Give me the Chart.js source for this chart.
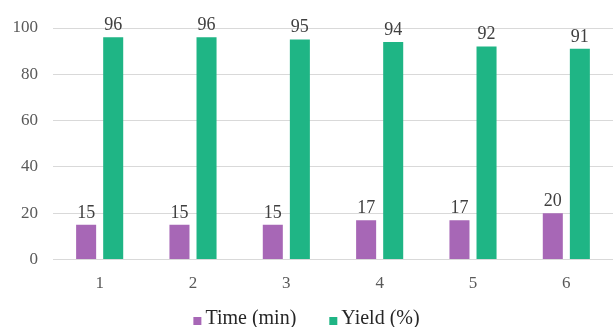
<!DOCTYPE html>
<html>
<head>
<meta charset="utf-8">
<script src="https://cdn.jsdelivr.net/npm/chart.js@4/dist/chart.umd.min.js"></script>
<style>
html,body{margin:0;padding:0;background:#fff;}
#wrap{width:613px;height:327px;}
</style>
</head>
<body>
<div id="wrap"><canvas id="c" width="613" height="327"></canvas></div>
<script>
const categories = ["1","2","3","4","5","6"];
const timeMin = [15,15,15,17,17,20];
const yieldPct = [96,96,95,94,92,91];
const yTicks = [0,20,40,60,80,100];

const FONT = "'Liberation Serif', 'Times New Roman', serif";

const valueLabels = {
  id: 'valueLabels',
  afterDatasetsDraw(chart) {
    const ctx = chart.ctx;
    ctx.save();
    ctx.font = "18px " + FONT;
    ctx.fillStyle = "#404040";
    ctx.textAlign = "center";
    ctx.textBaseline = "bottom";
    chart.data.datasets.forEach((ds, i) => {
      const meta = chart.getDatasetMeta(i);
      meta.data.forEach((bar, j) => {
        ctx.fillText(String(ds.data[j]), bar.x, bar.y - 3);
      });
    });
    ctx.restore();
  }
};

// bottom legend drawn from the datasets (labels + colours)
const bottomLegend = {
  id: 'bottomLegend',
  afterDraw(chart) {
    const ctx = chart.ctx;
    ctx.save();
    ctx.font = "20px " + FONT;
    ctx.textBaseline = "alphabetic";
    ctx.textAlign = "left";
    const box = 8, gapText = 4, gapItem = 33, baseline = 324;
    const items = chart.data.datasets.map(ds => ({ text: ds.label, color: ds.backgroundColor, w: ctx.measureText(ds.label).width }));
    let total = 0;
    items.forEach((it, i) => { total += box + gapText + it.w + (i < items.length - 1 ? gapItem : 0); });
    let x = chart.width / 2 - total / 2;
    items.forEach(it => {
      ctx.fillStyle = it.color;
      ctx.fillRect(x, baseline - 7, box, box);
      x += box + gapText;
      ctx.fillStyle = "#262626";
      ctx.fillText(it.text, x, baseline);
      x += it.w + gapItem;
    });
    ctx.restore();
  }
};

new Chart(document.getElementById('c'), {
  type: 'bar',
  data: {
    labels: categories,
    datasets: [
      { label: 'Time (min)', data: timeMin, backgroundColor: '#a767b6', barPercentage: 0.74, categoryPercentage: 0.58 },
      { label: 'Yield (%)', data: yieldPct, backgroundColor: '#1fb585', barPercentage: 0.74, categoryPercentage: 0.58 }
    ]
  },
  options: {
    responsive: false,
    animation: false,
    devicePixelRatio: 1,
    layout: { padding: { top: 28, right: 0, left: 0, bottom: 27 } },
    plugins: {
      tooltip: { enabled: false },
      legend: { display: false }
    },
    scales: {
      x: {
        grid: { display: false },
        border: { display: true, color: '#d9d9d9' },
        ticks: { font: { family: FONT, size: 17 }, color: '#595959', padding: 6 }
      },
      y: {
        min: 0, max: 100,
        afterBuildTicks(axis) { axis.ticks = yTicks.map(v => ({ value: v })); },
        afterFit(axis) { axis.width = 53; },
        grid: { color: '#d9d9d9', drawTicks: false },
        border: { display: false },
        ticks: { font: { family: FONT, size: 17 }, color: '#595959', padding: 15 }
      }
    }
  },
  plugins: [valueLabels, bottomLegend]
});
</script>
</body>
</html>
